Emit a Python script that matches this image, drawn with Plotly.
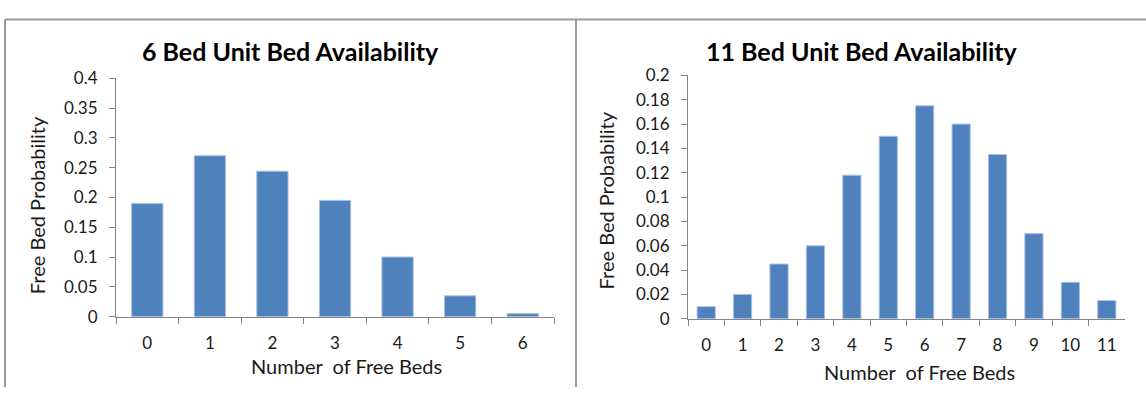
import plotly.graph_objects as go

# Free-bed probability distributions for two ward sizes
beds_6 = ["0", "1", "2", "3", "4", "5", "6"]
prob_6 = [0.19, 0.27, 0.244, 0.195, 0.100, 0.035, 0.005]

beds_11 = ["0", "1", "2", "3", "4", "5", "6", "7", "8", "9", "10", "11"]
prob_11 = [0.010, 0.020, 0.045, 0.060, 0.118, 0.150, 0.175, 0.160, 0.135, 0.070, 0.030, 0.015]

ticks_6 = [0, 0.05, 0.1, 0.15, 0.2, 0.25, 0.3, 0.35, 0.4]
ticks_11 = [0, 0.02, 0.04, 0.06, 0.08, 0.1, 0.12, 0.14, 0.16, 0.18, 0.2]

title_6 = "6 Bed Unit Bed Availability"
title_11 = "11 Bed Unit Bed Availability"
x_title = "Number  of Free Beds"
y_title = "Free Bed Probability"

W, H = 1146, 397
FONT = "Lato, 'Open Sans', sans-serif"
BAR = "#4F81BD"
AXIS = "#868686"
FRAME = "#9a9a9a"
TEXT = "#1a1a1a"


def px(x):
    return x / W


def py(y):
    return 1 - y / H


fig = go.Figure()
fig.add_trace(go.Bar(x=beds_6, y=prob_6, width=0.5,
                     marker=dict(color=BAR, line=dict(color="#a9c2e2", width=1)),
                     xaxis="x", yaxis="y", showlegend=False))
fig.add_trace(go.Bar(x=beds_11, y=prob_11, width=0.5,
                     marker=dict(color=BAR, line=dict(color="#a9c2e2", width=1)),
                     xaxis="x2", yaxis="y2", showlegend=False))

common_x = dict(type="category", tickson="boundaries", ticks="outside", ticklen=6, tickcolor=AXIS,
                showline=True, linecolor=AXIS, linewidth=1, showgrid=False, zeroline=False,
                tickfont=dict(family=FONT, size=17, color=TEXT), ticklabelstandoff=11, fixedrange=True)
common_y = dict(ticks="outside", ticklen=6, tickcolor=AXIS, showline=True, linecolor=AXIS, linewidth=1,
                showgrid=False, zeroline=False, tickfont=dict(family=FONT, size=17, color=TEXT),
                ticklabelstandoff=8, fixedrange=True)

fig.update_layout(
    width=W, height=H, margin=dict(l=0, r=0, t=0, b=0),
    paper_bgcolor="white", plot_bgcolor="white",
    xaxis=dict(common_x, domain=[px(116), px(554)], anchor="y", range=[-0.5, 6.5]),
    yaxis=dict(common_y, domain=[py(322.7), py(71)], anchor="x", range=[0, 0.4],
               tickvals=ticks_6, ticktext=[f"{v:g}" for v in ticks_6]),
    xaxis2=dict(common_x, domain=[px(688), px(1125)], anchor="y2", range=[-0.5, 11.5]),
    yaxis2=dict(common_y, domain=[py(325), py(68)], anchor="x2", range=[0, 0.2],
                tickvals=ticks_11, ticktext=[f"{v:g}" for v in ticks_11]),
)

ann = []
for txt, x, y in [(title_6, 290, 42), (title_11, 862, 42)]:
    ann.append(dict(text="<b>" + txt + "</b>", x=px(x), y=py(y), xref="paper", yref="paper",
                    showarrow=False, xanchor="center", yanchor="middle",
                    font=dict(family=FONT, size=25, color="black")))
for x, y in [(346, 375), (919, 381)]:
    ann.append(dict(text=x_title, x=px(x), y=py(y), xref="paper", yref="paper", showarrow=False,
                    xanchor="center", yanchor="middle", font=dict(family=FONT, size=20, color=TEXT)))
for x, y in [(37, 205), (606, 200)]:
    ann.append(dict(text=y_title, x=px(x), y=py(y), xref="paper", yref="paper", showarrow=False,
                    textangle=-90, xanchor="center", yanchor="middle",
                    font=dict(family=FONT, size=20, color=TEXT)))
fig.update_layout(annotations=ann)

# Outer chart frames: shared top edge, left edge and the divider between panels
frame = dict(type="line", xref="paper", yref="paper", line=dict(color=FRAME, width=2))
fig.update_layout(shapes=[
    dict(frame, x0=px(5), x1=1, y0=py(9), y1=py(9)),
    dict(frame, x0=px(5), x1=px(5), y0=py(9), y1=0),
    dict(frame, x0=px(576), x1=px(576), y0=py(9), y1=0),
])

fig.write_html("out.html")
